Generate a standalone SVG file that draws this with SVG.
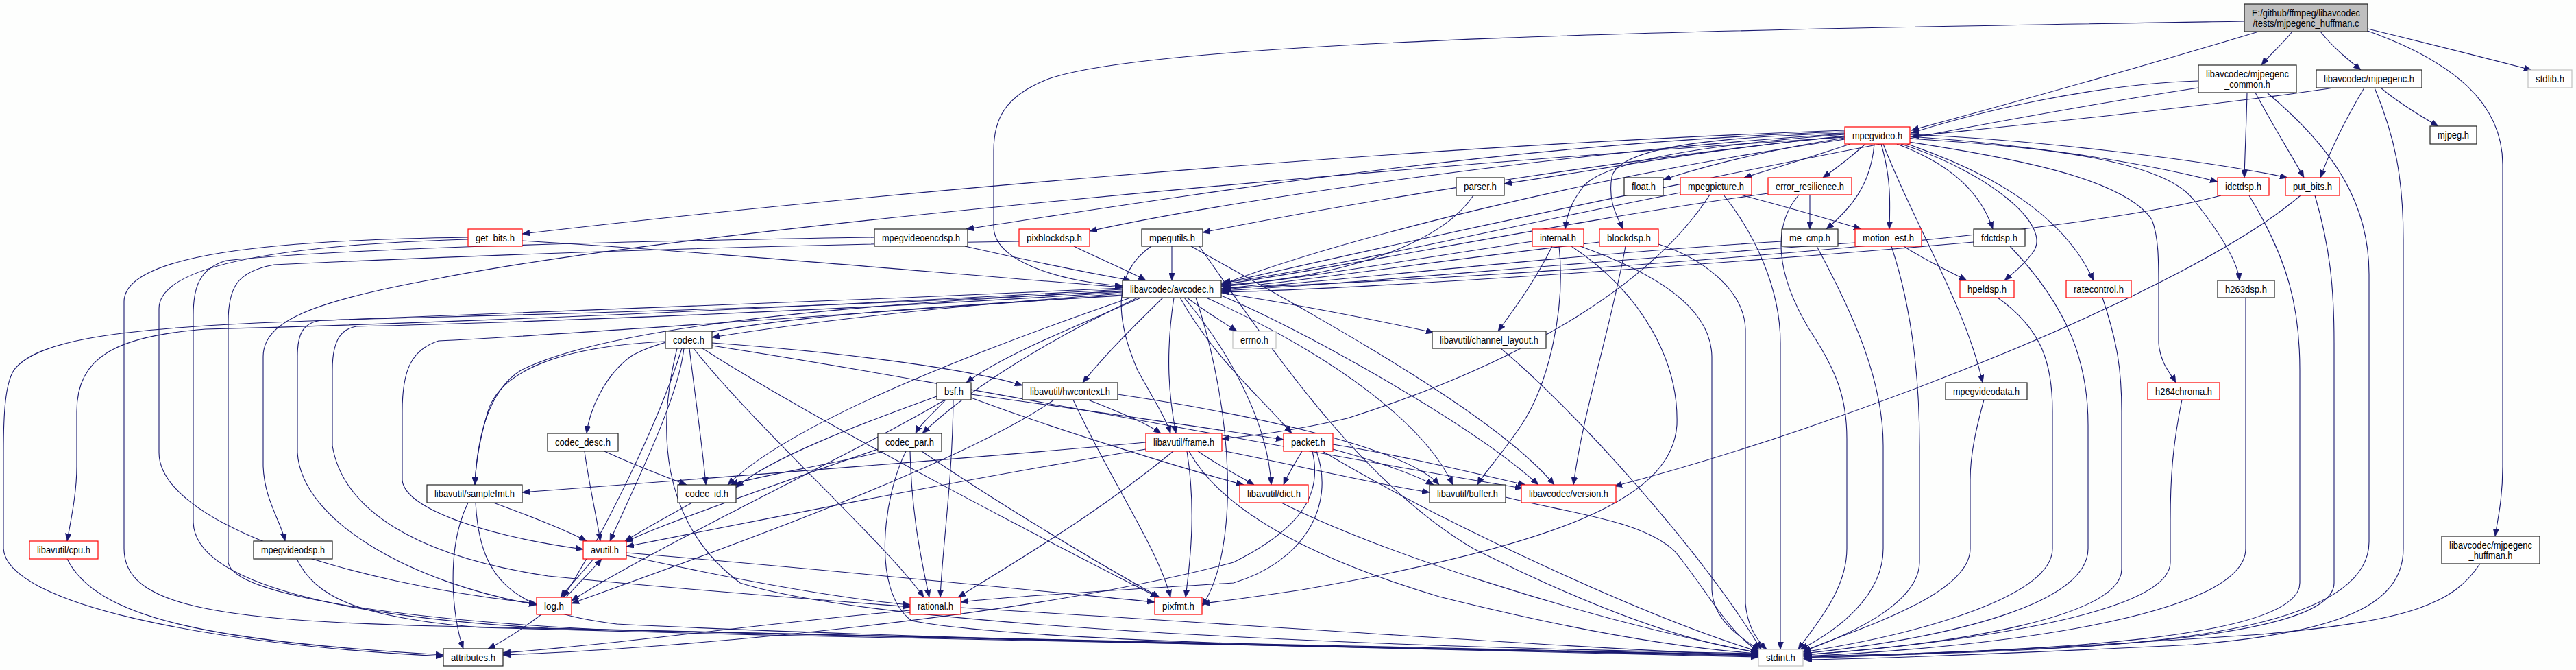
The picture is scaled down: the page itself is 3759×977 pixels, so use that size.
<svg xmlns="http://www.w3.org/2000/svg" width="3759" height="977" viewBox="0 0 3759 977">
<style>
.n rect{fill:#fff;stroke:#222;stroke-width:1.2}
.r rect{stroke:#f00}
.g rect{stroke:#c0c0c0}
.t rect{fill:#bfbfbf}
text{font-family:"Liberation Sans",Arial,Helvetica,sans-serif;font-size:14px;text-anchor:middle;fill:#000}
#edges path{fill:none;stroke:#191970;stroke-width:1.1;marker-end:url(#a)}
</style>
<defs>
<marker id="a" viewBox="0 0 11 9" refX="11" refY="4.5" markerWidth="11" markerHeight="9" markerUnits="userSpaceOnUse" orient="auto"><path d="M0,0 L11,4.5 L0,9 z" fill="#191970" stroke="#191970" stroke-width="0.5"/></marker>
</defs>
<rect x="0" y="0" width="3759" height="977" fill="#fdfefd"/>
<g id="edges">
<path d="M3296,46 C3100,105 2900,160 2789,190"/>
<path d="M3275,31 C2600,42 1700,55 1530,115 C1465,140 1450,175 1450,220 L1450,330 C1450,385 1560,412 1638,417"/>
<path d="M3345,46 C3330,65 3312,80 3300,95"/>
<path d="M3386,46 C3405,70 3428,88 3445,102"/>
<path d="M3455,42 C3550,65 3640,88 3694,102"/>
<path d="M3455,45 C3580,90 3652,150 3652,240 L3652,680 C3652,730 3644,760 3641,782"/>
<path d="M3208,118 C3050,123 2880,165 2789,194"/>
<path d="M3208,128 C2800,190 2150,330 1785,413"/>
<path d="M3279,135 C3278,180 3276,220 3275,259"/>
<path d="M3291,135 C3315,180 3340,220 3362,259"/>
<path d="M3308,135 C3410,220 3457,300 3457,400 L3457,790 C3457,880 3300,930 3000,945 C2800,953 2700,957 2633,959"/>
<path d="M3405,128 C3250,152 2950,182 2789,199"/>
<path d="M3450,128 C3425,170 3400,220 3386,259"/>
<path d="M3474,128 C3500,150 3530,168 3558,184"/>
<path d="M3465,128 C3495,200 3507,260 3507,350 L3507,800 C3507,880 3420,922 3200,940 C2900,955 2700,961 2633,962"/>
<path d="M2787,199 C2950,210 3120,235 3236,265"/>
<path d="M2787,196 C2950,203 3200,230 3338,259"/>
<path d="M2787,202 C2950,213 3150,228 3200,290 C3240,340 3265,380 3268,409"/>
<path d="M2785,207 C2950,232 3100,262 3140,320 C3150,345 3150,380 3150,420 L3150,500 C3152,530 3168,545 3175,558"/>
<path d="M2774,210 C2900,250 3000,330 2965,370 C2950,390 2935,400 2925,409"/>
<path d="M2783,210 C2900,250 3010,310 3055,409"/>
<path d="M2748,210 C2790,320 2870,450 2893,558"/>
<path d="M2768,210 C2850,240 2892,285 2908,334"/>
<path d="M2745,210 C2760,260 2758,300 2757,334"/>
<path d="M2735,210 C2730,270 2700,305 2665,334"/>
<path d="M2722,210 C2700,230 2680,245 2660,259"/>
<path d="M2700,210 C2640,230 2590,245 2545,259"/>
<path d="M2692,201 C2600,215 2500,238 2427,262"/>
<path d="M2692,199 C2500,216 2350,245 2195,268"/>
<path d="M2692,196 C2500,210 2350,232 2312,270 C2292,295 2286,315 2284,334"/>
<path d="M2692,194 C2500,200 2362,215 2352,258 C2346,295 2360,315 2368,334"/>
<path d="M2692,203 C2300,260 1950,352 1785,414"/>
<path d="M2692,198 C2300,240 1950,300 1755,339"/>
<path d="M2692,195 C2300,220 1800,290 1590,337"/>
<path d="M2692,192 C2200,208 1700,290 1410,334"/>
<path d="M2692,190 C2000,215 1200,290 762,341"/>
<path d="M2692,200 C2000,245 1000,335 640,406 C450,440 384,470 384,520 L384,680 C386,730 410,760 416,789"/>
<path d="M3241,285 C3000,350 2200,405 1785,420"/>
<path d="M3282,285 C3340,380 3356,450 3356,540 L3356,850 C3356,930 3000,950 2633,957"/>
<path d="M3357,285 C3200,420 2700,620 2356,709"/>
<path d="M3378,285 C3400,360 3406,420 3406,500 L3406,850 C3406,930 3050,950 2633,958"/>
<path d="M2150,285 C2100,360 1950,405 1782,416"/>
<path d="M2452,281 C2200,330 1950,390 1782,413"/>
<path d="M2540,284 C2600,300 2670,320 2716,334"/>
<path d="M2495,284 C2420,400 2250,520 1966,610 C1880,630 1820,636 1783,640"/>
<path d="M2515,284 C2560,340 2598,420 2598,500 L2598,947"/>
<path d="M2580,282 C2300,320 1950,392 1782,415"/>
<path d="M2641,284 L2641,334"/>
<path d="M2625,284 C2585,330 2592,400 2640,480 C2680,540 2695,580 2695,640 L2695,800 C2695,860 2650,910 2624,947"/>
<path d="M762,351 C1000,365 1300,392 1638,419"/>
<path d="M683,346 C400,350 181,370 181,440 L181,800 C181,880 300,905 640,913 C1500,930 2300,945 2566,955"/>
<path d="M683,349 C450,356 232,380 232,450 L232,660 C232,760 500,850 783,880"/>
<path d="M1408,359 C1500,380 1590,398 1650,409"/>
<path d="M1276,346 C900,352 500,362 330,380 C290,392 282,420 282,460 L282,760 C282,850 500,900 800,916 C1600,936 2300,949 2566,957"/>
<path d="M1567,359 C1610,380 1650,396 1672,409"/>
<path d="M1487,352 C1100,358 700,372 400,386 C345,396 333,420 333,470 L333,820 C340,870 600,905 900,919 C1700,936 2300,951 2566,958"/>
<path d="M1710,359 L1710,409"/>
<path d="M1680,359 C1620,400 1630,470 1660,540 C1688,590 1702,612 1708,632"/>
<path d="M1738,359 C1900,450 2180,600 2268,707"/>
<path d="M1750,359 C1850,500 1980,700 2150,800 C2350,900 2480,940 2566,951"/>
<path d="M2236,352 C2050,380 1900,406 1782,418"/>
<path d="M2265,359 C2240,410 2210,450 2186,483"/>
<path d="M2275,359 C2285,450 2260,560 2220,620 C2190,665 2165,690 2156,707"/>
<path d="M2293,359 C2400,430 2450,530 2447,620 C2440,720 2300,790 1900,860 C1820,872 1790,876 1754,880"/>
<path d="M2306,359 C2420,400 2497,450 2498,520 L2498,860 C2500,905 2540,930 2568,948"/>
<path d="M2334,353 C2100,380 1900,410 1782,421"/>
<path d="M2372,359 C2350,480 2310,600 2296,707"/>
<path d="M2420,356 C2480,375 2545,420 2547,480 L2547,880 C2550,915 2565,935 2578,947"/>
<path d="M2600,352 C2300,370 1950,410 1782,422"/>
<path d="M2651,359 C2700,450 2748,550 2748,650 L2748,800 C2748,870 2680,920 2627,947"/>
<path d="M2707,354 C2300,382 1950,416 1782,424"/>
<path d="M2778,359 C2810,380 2845,396 2870,409"/>
<path d="M2760,359 C2790,450 2801,550 2801,650 L2801,820 C2800,880 2700,925 2631,950"/>
<path d="M2880,353 C2500,386 2000,421 1782,426"/>
<path d="M2933,359 C3020,450 3047,530 3047,620 L3047,800 C3047,880 2850,930 2631,953"/>
<path d="M2915,434 C2980,480 2995,530 2995,600 L2995,800 C2995,870 2800,925 2631,951"/>
<path d="M3068,434 C3090,500 3096,540 3096,600 L3096,830 C3096,900 2850,940 2631,955"/>
<path d="M3277,434 L3277,800 C3277,900 2900,945 2631,957"/>
<path d="M3184,583 C3170,650 3167,700 3167,760 L3167,820 C3167,890 2900,935 2631,955"/>
<path d="M2895,583 C2885,620 2875,660 2875,700 L2875,800 C2875,870 2700,920 2631,950"/>
<path d="M3619,822 C3580,880 3520,905 3300,925 C3000,945 2800,955 2631,960"/>
<path d="M1732,434 C1760,455 1785,470 1805,483"/>
<path d="M1638,425 C1300,440 900,470 760,540 C712,570 696,640 693,707"/>
<path d="M1638,420 C1200,440 700,460 400,470 C150,480 50,500 20,540 C8,560 5,600 5,660 L5,800 C10,880 300,940 647,957"/>
<path d="M1638,430 C1200,460 800,490 640,497 C600,510 587,540 587,600 L587,700 C590,740 700,780 851,801"/>
<path d="M1760,434 C1950,520 2080,620 2120,707"/>
<path d="M1638,422 C1200,446 700,470 300,480 C170,490 112,520 112,600 L112,680 C112,720 103,760 98,789"/>
<path d="M1782,427 C1900,445 2000,465 2092,485"/>
<path d="M1728,434 C1800,520 1850,620 1855,707"/>
<path d="M1713,434 C1700,520 1706,580 1716,632"/>
<path d="M1697,434 C1650,480 1610,520 1580,558"/>
<path d="M1638,424 C1200,450 700,460 470,467 C440,470 434,490 434,520 L434,660 C440,760 600,850 783,882"/>
<path d="M1745,434 C1800,600 1810,800 1754,884"/>
<path d="M1638,426 C1200,455 700,472 520,476 C495,480 485,500 485,540 L485,650 C500,740 600,810 800,840 C1000,860 1200,875 1328,885"/>
<path d="M1665,434 C1560,480 1460,520 1410,558"/>
<path d="M1638,428 C1400,445 1200,466 1039,492"/>
<path d="M1640,431 C1300,450 1000,470 920,520 C880,550 860,600 856,632"/>
<path d="M1660,434 C1500,510 1400,580 1346,632"/>
<path d="M1650,434 C1400,520 1150,620 1062,707"/>
<path d="M1722,434 C1770,520 1840,580 1885,632"/>
<path d="M1782,431 C1900,480 2150,620 2245,707"/>
<path d="M1006,508 C1012,560 1025,650 1030,707"/>
<path d="M998,508 C990,580 930,700 890,789"/>
<path d="M995,508 C960,620 880,780 822,871"/>
<path d="M971,498 C820,505 730,540 712,600 C700,640 694,680 693,707"/>
<path d="M1012,508 C1100,620 1300,800 1348,871"/>
<path d="M1025,508 C1200,620 1550,800 1690,871"/>
<path d="M1039,500 C1250,515 1420,540 1492,562"/>
<path d="M1039,504 C1400,560 1900,660 2222,712"/>
<path d="M988,508 C960,620 960,760 1080,850 C1300,920 2100,945 2566,953"/>
<path d="M853,658 C860,710 872,760 876,789"/>
<path d="M882,658 C930,680 970,695 1002,707"/>
<path d="M1380,583 C1365,600 1345,615 1336,632"/>
<path d="M1367,578 C1250,620 1120,670 1074,711"/>
<path d="M1379,583 C1250,660 950,800 834,876"/>
<path d="M1391,583 C1390,700 1375,800 1372,871"/>
<path d="M1417,580 C1550,630 1750,690 1815,707"/>
<path d="M1417,575 C1600,600 1800,630 1873,641"/>
<path d="M1538,583 C1400,680 1000,820 834,880"/>
<path d="M1566,583 C1620,700 1690,800 1708,871"/>
<path d="M1588,583 C1630,600 1670,615 1694,632"/>
<path d="M1631,575 C1800,600 2050,650 2100,707"/>
<path d="M1290,658 C1200,680 1100,695 1066,707"/>
<path d="M1281,655 C1150,700 950,770 912,791"/>
<path d="M1328,658 C1330,750 1345,820 1356,871"/>
<path d="M1345,658 C1450,730 1600,820 1692,871"/>
<path d="M1322,658 C1290,720 1270,860 1330,905 C1500,940 2200,948 2566,955"/>
<path d="M1672,645 C1400,670 1000,700 762,718"/>
<path d="M1672,655 C1400,700 1100,760 914,797"/>
<path d="M1712,658 C1600,750 1480,820 1398,871"/>
<path d="M1732,658 C1745,740 1738,810 1730,871"/>
<path d="M1748,658 C1780,680 1810,695 1830,707"/>
<path d="M1783,657 C1900,680 2000,705 2086,718"/>
<path d="M1735,658 C1780,740 1900,810 2100,870 C2300,920 2450,945 2566,953"/>
<path d="M1900,658 C1890,675 1880,690 1873,707"/>
<path d="M1945,655 C2000,670 2060,690 2092,707"/>
<path d="M1945,648 C2050,665 2150,690 2226,707"/>
<path d="M1915,658 C1930,720 1900,770 1800,820 C1500,900 1000,945 734,955"/>
<path d="M1921,658 C1950,740 1900,820 1800,850 C1600,862 1450,872 1402,878"/>
<path d="M1930,658 C2100,760 2400,900 2566,950"/>
<path d="M683,733 C650,800 660,900 676,946"/>
<path d="M720,733 C780,755 830,775 856,789"/>
<path d="M694,733 C700,840 740,890 900,910 C1400,935 2200,948 2566,955"/>
<path d="M1010,733 C970,755 935,775 912,789"/>
<path d="M866,815 C850,835 830,855 818,871"/>
<path d="M914,810 C1050,840 1200,870 1328,882"/>
<path d="M914,806 C1200,830 1500,860 1685,878"/>
<path d="M826,871 C845,850 865,830 878,815"/>
<path d="M790,896 C765,915 735,935 712,946"/>
<path d="M1402,886 C1800,910 2300,945 2566,956"/>
<path d="M1328,890 C1100,910 900,940 734,952"/>
<path d="M1870,733 C2000,800 2300,900 2566,952"/>
<path d="M2197,725 C2300,750 2400,760 2445,805 C2490,860 2520,920 2566,950"/>
<path d="M2190,508 C2300,600 2480,800 2570,947"/>
<path d="M433,815 C460,870 520,900 700,915 C1400,935 2200,950 2566,956"/>
<path d="M98,815 C140,900 300,935 647,955"/>
</g>
<g id="n_top" class="n t"><rect x="3275" y="6" width="180" height="40"/><text x="3365" y="23.5" textLength="158" lengthAdjust="spacingAndGlyphs">E:/github/ffmpeg/libavcodec</text><text x="3365" y="38.5" textLength="155" lengthAdjust="spacingAndGlyphs">/tests/mjpegenc_huffman.c</text></g>
<g id="n_mjc" class="n"><rect x="3208" y="95" width="143" height="40"/><text x="3279.5" y="112.5" textLength="121" lengthAdjust="spacingAndGlyphs">libavcodec/mjpegenc</text><text x="3279.5" y="127.5" textLength="67" lengthAdjust="spacingAndGlyphs">_common.h</text></g>
<g id="n_mje" class="n"><rect x="3380" y="102" width="154" height="26"/><text x="3457" y="120" textLength="132" lengthAdjust="spacingAndGlyphs">libavcodec/mjpegenc.h</text></g>
<g id="n_stdlib" class="n g"><rect x="3689" y="102" width="64" height="26"/><text x="3721" y="120" textLength="42" lengthAdjust="spacingAndGlyphs">stdlib.h</text></g>
<g id="n_mpv" class="n r"><rect x="2692" y="185" width="95" height="25"/><text x="2739.5" y="202.5" textLength="73" lengthAdjust="spacingAndGlyphs">mpegvideo.h</text></g>
<g id="n_mjpeg" class="n"><rect x="3546" y="184" width="68" height="26"/><text x="3580" y="202" textLength="46" lengthAdjust="spacingAndGlyphs">mjpeg.h</text></g>
<g id="n_parser" class="n"><rect x="2125" y="259" width="70" height="26"/><text x="2160" y="277" textLength="48" lengthAdjust="spacingAndGlyphs">parser.h</text></g>
<g id="n_float" class="n"><rect x="2370" y="259" width="57" height="26"/><text x="2398.5" y="277" textLength="35" lengthAdjust="spacingAndGlyphs">float.h</text></g>
<g id="n_mpic" class="n r"><rect x="2452" y="259" width="104" height="25"/><text x="2504" y="276.5" textLength="82" lengthAdjust="spacingAndGlyphs">mpegpicture.h</text></g>
<g id="n_er" class="n r"><rect x="2580" y="259" width="122" height="25"/><text x="2641" y="276.5" textLength="100" lengthAdjust="spacingAndGlyphs">error_resilience.h</text></g>
<g id="n_idct" class="n r"><rect x="3236" y="259" width="75" height="26"/><text x="3273.5" y="277" textLength="53" lengthAdjust="spacingAndGlyphs">idctdsp.h</text></g>
<g id="n_putb" class="n r"><rect x="3335" y="259" width="79" height="26"/><text x="3374.5" y="277" textLength="57" lengthAdjust="spacingAndGlyphs">put_bits.h</text></g>
<g id="n_getb" class="n r"><rect x="683" y="334" width="79" height="25"/><text x="722.5" y="351.5" textLength="57" lengthAdjust="spacingAndGlyphs">get_bits.h</text></g>
<g id="n_mved" class="n"><rect x="1276" y="334" width="136" height="25"/><text x="1344" y="351.5" textLength="114" lengthAdjust="spacingAndGlyphs">mpegvideoencdsp.h</text></g>
<g id="n_pixb" class="n r"><rect x="1487" y="334" width="103" height="25"/><text x="1538.5" y="351.5" textLength="81" lengthAdjust="spacingAndGlyphs">pixblockdsp.h</text></g>
<g id="n_mpu" class="n"><rect x="1666" y="334" width="89" height="25"/><text x="1710.5" y="351.5" textLength="67" lengthAdjust="spacingAndGlyphs">mpegutils.h</text></g>
<g id="n_internal" class="n r"><rect x="2236" y="334" width="75" height="25"/><text x="2273.5" y="351.5" textLength="53" lengthAdjust="spacingAndGlyphs">internal.h</text></g>
<g id="n_blockdsp" class="n r"><rect x="2334" y="334" width="86" height="25"/><text x="2377" y="351.5" textLength="64" lengthAdjust="spacingAndGlyphs">blockdsp.h</text></g>
<g id="n_mecmp" class="n"><rect x="2600" y="334" width="82" height="25"/><text x="2641" y="351.5" textLength="60" lengthAdjust="spacingAndGlyphs">me_cmp.h</text></g>
<g id="n_me" class="n r"><rect x="2707" y="334" width="97" height="25"/><text x="2755.5" y="351.5" textLength="75" lengthAdjust="spacingAndGlyphs">motion_est.h</text></g>
<g id="n_fdct" class="n"><rect x="2880" y="334" width="75" height="25"/><text x="2917.5" y="351.5" textLength="53" lengthAdjust="spacingAndGlyphs">fdctdsp.h</text></g>
<g id="n_avc" class="n"><rect x="1638" y="409" width="144" height="25"/><text x="1710" y="426.5" textLength="122" lengthAdjust="spacingAndGlyphs">libavcodec/avcodec.h</text></g>
<g id="n_hpel" class="n r"><rect x="2860" y="409" width="79" height="25"/><text x="2899.5" y="426.5" textLength="57" lengthAdjust="spacingAndGlyphs">hpeldsp.h</text></g>
<g id="n_rc" class="n r"><rect x="3015" y="409" width="95" height="25"/><text x="3062.5" y="426.5" textLength="73" lengthAdjust="spacingAndGlyphs">ratecontrol.h</text></g>
<g id="n_h263" class="n"><rect x="3236" y="409" width="83" height="25"/><text x="3277.5" y="426.5" textLength="61" lengthAdjust="spacingAndGlyphs">h263dsp.h</text></g>
<g id="n_codec" class="n"><rect x="971" y="483" width="68" height="25"/><text x="1005" y="500.5" textLength="46" lengthAdjust="spacingAndGlyphs">codec.h</text></g>
<g id="n_errno" class="n g"><rect x="1799" y="483" width="63" height="25"/><text x="1830.5" y="500.5" textLength="41" lengthAdjust="spacingAndGlyphs">errno.h</text></g>
<g id="n_chl" class="n"><rect x="2090" y="483" width="166" height="25"/><text x="2173" y="500.5" textLength="144" lengthAdjust="spacingAndGlyphs">libavutil/channel_layout.h</text></g>
<g id="n_bsf" class="n"><rect x="1367" y="558" width="50" height="25"/><text x="1392" y="575.5" textLength="28" lengthAdjust="spacingAndGlyphs">bsf.h</text></g>
<g id="n_hwc" class="n"><rect x="1492" y="558" width="139" height="25"/><text x="1561.5" y="575.5" textLength="117" lengthAdjust="spacingAndGlyphs">libavutil/hwcontext.h</text></g>
<g id="n_mvdata" class="n"><rect x="2839" y="558" width="119" height="25"/><text x="2898.5" y="575.5" textLength="97" lengthAdjust="spacingAndGlyphs">mpegvideodata.h</text></g>
<g id="n_h264c" class="n r"><rect x="3134" y="558" width="105" height="25"/><text x="3186.5" y="575.5" textLength="83" lengthAdjust="spacingAndGlyphs">h264chroma.h</text></g>
<g id="n_cdesc" class="n"><rect x="799" y="632" width="103" height="26"/><text x="850.5" y="650" textLength="81" lengthAdjust="spacingAndGlyphs">codec_desc.h</text></g>
<g id="n_cpar" class="n"><rect x="1281" y="632" width="93" height="26"/><text x="1327.5" y="650" textLength="71" lengthAdjust="spacingAndGlyphs">codec_par.h</text></g>
<g id="n_frame" class="n r"><rect x="1672" y="632" width="111" height="26"/><text x="1727.5" y="650" textLength="89" lengthAdjust="spacingAndGlyphs">libavutil/frame.h</text></g>
<g id="n_packet" class="n r"><rect x="1873" y="632" width="72" height="26"/><text x="1909" y="650" textLength="50" lengthAdjust="spacingAndGlyphs">packet.h</text></g>
<g id="n_sfmt" class="n"><rect x="623" y="707" width="139" height="26"/><text x="692.5" y="725" textLength="117" lengthAdjust="spacingAndGlyphs">libavutil/samplefmt.h</text></g>
<g id="n_cid" class="n"><rect x="989" y="707" width="85" height="26"/><text x="1031.5" y="725" textLength="63" lengthAdjust="spacingAndGlyphs">codec_id.h</text></g>
<g id="n_dict" class="n r"><rect x="1809" y="707" width="100" height="26"/><text x="1859" y="725" textLength="78" lengthAdjust="spacingAndGlyphs">libavutil/dict.h</text></g>
<g id="n_buffer" class="n"><rect x="2086" y="707" width="111" height="26"/><text x="2141.5" y="725" textLength="89" lengthAdjust="spacingAndGlyphs">libavutil/buffer.h</text></g>
<g id="n_ver" class="n r"><rect x="2220" y="707" width="138" height="26"/><text x="2289" y="725" textLength="116" lengthAdjust="spacingAndGlyphs">libavcodec/version.h</text></g>
<g id="n_cpu" class="n r"><rect x="43" y="789" width="100" height="26"/><text x="93" y="807" textLength="78" lengthAdjust="spacingAndGlyphs">libavutil/cpu.h</text></g>
<g id="n_mvdsp" class="n"><rect x="370" y="789" width="115" height="26"/><text x="427.5" y="807" textLength="93" lengthAdjust="spacingAndGlyphs">mpegvideodsp.h</text></g>
<g id="n_avutil" class="n r"><rect x="851" y="789" width="63" height="26"/><text x="882.5" y="807" textLength="41" lengthAdjust="spacingAndGlyphs">avutil.h</text></g>
<g id="n_mjh" class="n"><rect x="3563" y="782" width="143" height="40"/><text x="3634.5" y="799.5" textLength="121" lengthAdjust="spacingAndGlyphs">libavcodec/mjpegenc</text><text x="3634.5" y="814.5" textLength="64" lengthAdjust="spacingAndGlyphs">_huffman.h</text></g>
<g id="n_log" class="n r"><rect x="783" y="871" width="51" height="25"/><text x="808.5" y="888.5" textLength="29" lengthAdjust="spacingAndGlyphs">log.h</text></g>
<g id="n_rational" class="n r"><rect x="1328" y="871" width="74" height="25"/><text x="1365" y="888.5" textLength="52" lengthAdjust="spacingAndGlyphs">rational.h</text></g>
<g id="n_pixfmt" class="n r"><rect x="1685" y="871" width="69" height="25"/><text x="1719.5" y="888.5" textLength="47" lengthAdjust="spacingAndGlyphs">pixfmt.h</text></g>
<g id="n_attr" class="n"><rect x="647" y="946" width="87" height="25"/><text x="690.5" y="963.5" textLength="65" lengthAdjust="spacingAndGlyphs">attributes.h</text></g>
<g id="n_stdint" class="n g"><rect x="2566" y="947" width="65" height="24"/><text x="2598.5" y="964" textLength="43" lengthAdjust="spacingAndGlyphs">stdint.h</text></g>
</svg>
